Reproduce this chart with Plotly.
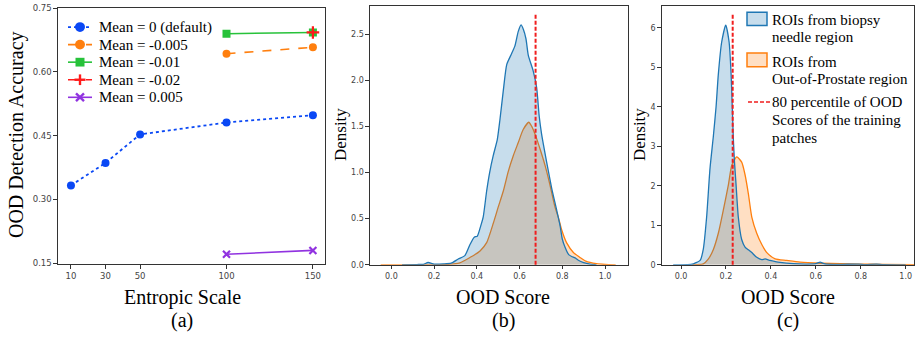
import plotly.graph_objects as go

W, H = 915, 340

# ---------------- Data: panel (a) ----------------
entropic_scales = [10, 30, 50, 100, 150]
mean_0 = [0.333, 0.386, 0.453, 0.481, 0.498]
scales_late = [100, 150]
mean_m0005 = [0.643, 0.658]
mean_m001 = [0.690, 0.693]
scales_red = [150]
mean_m002 = [0.693]
mean_p0005 = [0.171, 0.180]
a_xticks = [10, 30, 50, 100, 150]
a_yticks = [0.15, 0.30, 0.45, 0.60, 0.75]
a_labels = ["Mean = 0 (default)", "Mean = -0.005", "Mean = -0.01", "Mean = -0.02", "Mean = 0.005"]

# ---------------- Data: panel (b) density curves ----------------
b_needle_x = [0.05, 0.12, 0.15, 0.172, 0.20, 0.243, 0.28, 0.313, 0.344, 0.368, 0.388, 0.402,
              0.418, 0.43, 0.446, 0.46, 0.477, 0.496, 0.508, 0.524, 0.54, 0.563, 0.578, 0.594,
              0.607, 0.618, 0.63, 0.641, 0.664, 0.68, 0.692, 0.703, 0.712, 0.727, 0.75, 0.774,
              0.79, 0.80, 0.813, 0.83, 0.844, 0.86, 0.875, 0.90, 0.93, 0.96]
b_needle_y = [0.0, 0.003, 0.006, 0.025, 0.008, 0.01, 0.018, 0.063, 0.10, 0.22, 0.30, 0.31,
              0.42, 0.52, 0.80, 1.0, 1.185, 1.36, 1.57, 1.89, 2.17, 2.29, 2.37, 2.53,
              2.60, 2.55, 2.45, 2.27, 2.10, 1.92, 1.61, 1.42, 1.30, 1.11, 0.835, 0.59,
              0.42, 0.28, 0.19, 0.11, 0.09, 0.075, 0.05, 0.025, 0.008, 0.0]
b_prost_x = [-0.05, 0.10, 0.25, 0.29, 0.32, 0.345, 0.368, 0.39, 0.415, 0.446, 0.477, 0.50,
             0.524, 0.547, 0.571, 0.594, 0.617, 0.643, 0.657, 0.675, 0.696, 0.719, 0.742,
             0.766, 0.781, 0.797, 0.82, 0.852, 0.883, 0.91, 0.96, 1.0, 1.05]
b_prost_y = [0.0, 0.0, 0.003, 0.01, 0.02, 0.05, 0.08, 0.11, 0.15, 0.24, 0.45, 0.625,
             0.80, 1.01, 1.185, 1.325, 1.466, 1.545, 1.50, 1.40, 1.255, 1.08, 0.87,
             0.625, 0.52, 0.38, 0.24, 0.134, 0.08, 0.04, 0.012, 0.004, 0.0]
b_threshold = 0.675
b_yticks = [0.0, 0.5, 1.0, 1.5, 2.0, 2.5]

# ---------------- Data: panel (c) density curves ----------------
c_needle_x = [-0.035, 0.03, 0.055, 0.07, 0.085, 0.099, 0.114, 0.129, 0.144, 0.156, 0.166,
              0.181, 0.199, 0.214, 0.223, 0.228, 0.233, 0.238, 0.245, 0.255, 0.27, 0.285,
              0.30, 0.315, 0.337, 0.359, 0.374, 0.396, 0.42, 0.441, 0.50, 0.56, 0.60, 0.619,
              0.64, 0.70, 0.79, 0.82, 0.87, 0.90, 1.0]
c_needle_y = [0.0, 0.003, 0.025, 0.06, 0.11, 0.39, 1.21, 2.44, 3.26, 4.0, 4.82,
              5.64, 6.07, 5.64, 4.82, 4.0, 3.18, 2.6, 2.03, 1.21, 0.64, 0.45,
              0.38, 0.31, 0.19, 0.13, 0.15, 0.11, 0.08, 0.06, 0.03, 0.02, 0.03, 0.066,
              0.025, 0.01, 0.02, 0.005, 0.02, 0.003, 0.0]
c_prost_x = [0.05, 0.07, 0.099, 0.122, 0.144, 0.166, 0.188, 0.211, 0.226, 0.248, 0.27,
             0.285, 0.30, 0.315, 0.337, 0.359, 0.382, 0.419, 0.47, 0.53, 0.62, 0.80, 0.90, 1.04]
c_prost_y = [0.0, 0.003, 0.025, 0.15, 0.39, 0.80, 1.38, 2.03, 2.52, 2.73, 2.60,
             2.28, 1.79, 1.21, 0.80, 0.52, 0.31, 0.15, 0.11, 0.066, 0.04, 0.02, 0.01, 0.004]
c_threshold = 0.23
c_yticks = [0, 1, 2, 3, 4, 5, 6]
score_ticks = [0.0, 0.2, 0.4, 0.6, 0.8, 1.0]

legend_c_lines = [["ROIs from biopsy", "needle region"],
                  ["ROIs from", "Out-of-Prostate region"],
                  ["80 percentile of OOD", "Scores of the training", "patches"]]

# ---------------- helpers ----------------
def px(v):
    return v / W

def py(v):
    return 1 - v / H

SERIF = "Liberation Serif"
SANS = "DejaVu Sans"
BLUE = "#1f77b4"
ORANGE = "#ff7f0e"
RED = "rgb(240,30,30)"
A_COLORS = ["#0a48f5", "#ff7f0e", "#27c23a", "#ff1a1a", "#9133e0"]
A_DASH = ["dot", "dash", "solid", "dashdot", "solid"]

fig = go.Figure()

# panel (a)
fig.add_trace(go.Scatter(x=entropic_scales, y=mean_0, mode="lines+markers", name=a_labels[0],
                         line=dict(color=A_COLORS[0], width=1.8, dash="dot"),
                         marker=dict(symbol="circle", size=8, color=A_COLORS[0]), xaxis="x", yaxis="y"))
fig.add_trace(go.Scatter(x=scales_late, y=mean_m0005, mode="lines+markers", name=a_labels[1],
                         line=dict(color=A_COLORS[1], width=1.6, dash="dash"),
                         marker=dict(symbol="circle", size=8, color=A_COLORS[1]), xaxis="x", yaxis="y"))
fig.add_trace(go.Scatter(x=scales_late, y=mean_m001, mode="lines+markers", name=a_labels[2],
                         line=dict(color=A_COLORS[2], width=1.6),
                         marker=dict(symbol="square", size=8, color=A_COLORS[2]), xaxis="x", yaxis="y"))
fig.add_trace(go.Scatter(x=scales_red, y=mean_m002, mode="lines+markers", name=a_labels[3],
                         line=dict(color=A_COLORS[3], width=1.6, dash="dashdot"),
                         marker=dict(symbol="cross-thin", size=9, color=A_COLORS[3],
                                     line=dict(color=A_COLORS[3], width=2.2)), xaxis="x", yaxis="y"))
fig.add_trace(go.Scatter(x=scales_late, y=mean_p0005, mode="lines+markers", name=a_labels[4],
                         line=dict(color=A_COLORS[4], width=1.6),
                         marker=dict(symbol="x-thin", size=7, color=A_COLORS[4],
                                     line=dict(color=A_COLORS[4], width=2.2)), xaxis="x", yaxis="y"))

# panel (b)
fig.add_trace(go.Scatter(x=b_prost_x, y=b_prost_y, mode="lines", fill="tozeroy",
                         fillcolor="rgba(255,127,14,0.25)", line=dict(color=ORANGE, width=1.3, shape="spline", smoothing=0.6),
                         xaxis="x2", yaxis="y2"))
fig.add_trace(go.Scatter(x=b_needle_x, y=b_needle_y, mode="lines", fill="tozeroy",
                         fillcolor="rgba(31,119,180,0.25)", line=dict(color=BLUE, width=1.3, shape="spline", smoothing=0.6),
                         xaxis="x2", yaxis="y2"))

# panel (c)
fig.add_trace(go.Scatter(x=c_prost_x, y=c_prost_y, mode="lines", fill="tozeroy",
                         fillcolor="rgba(255,127,14,0.25)", line=dict(color=ORANGE, width=1.3, shape="spline", smoothing=0.6),
                         xaxis="x3", yaxis="y3"))
fig.add_trace(go.Scatter(x=c_needle_x, y=c_needle_y, mode="lines", fill="tozeroy",
                         fillcolor="rgba(31,119,180,0.25)", line=dict(color=BLUE, width=1.3, shape="spline", smoothing=0.6),
                         xaxis="x3", yaxis="y3"))

tickfont = dict(family=SANS, size=8.5, color="#444")
tickfont_s = dict(family=SANS, size=8, color="#444")
axline = dict(showline=True, linecolor="#333", linewidth=1.2, mirror=True, ticks="outside",
              ticklen=3.5, tickcolor="#333", showgrid=False, zeroline=False,
              ticklabeloverflow="allow")

fig.update_layout(
    width=W, height=H, margin=dict(l=0, r=0, t=0, b=0),
    paper_bgcolor="white", plot_bgcolor="white", showlegend=False, hovermode=False,
    xaxis=dict(domain=[px(58), px(325)], range=[2.5, 157], tickvals=a_xticks,
               tickfont=tickfont, anchor="y", **axline),
    yaxis=dict(domain=[py(267), py(3)], range=[0.1477, 0.7507], tickvals=a_yticks,
               tickformat=".2f", tickfont=tickfont, anchor="x", **axline),
    xaxis2=dict(domain=[px(370), px(628.3)], range=[-0.10, 1.109], tickvals=score_ticks,
                tickformat=".1f", tickfont=tickfont_s, anchor="y2", **axline),
    yaxis2=dict(domain=[py(267.7), py(1.5)], range=[0, 2.80], tickvals=b_yticks,
                tickformat=".1f", tickfont=tickfont_s, anchor="x2", **axline),
    xaxis3=dict(domain=[px(661.7), px(914)], range=[-0.086, 1.037], tickvals=score_ticks,
                tickformat=".1f", tickfont=tickfont_s, anchor="y3", **axline),
    yaxis3=dict(domain=[py(267.7), py(1.5)], range=[0, 6.54], tickvals=c_yticks,
                tickfont=tickfont_s, anchor="x3", **axline),
)

# threshold lines (vertical, data x)
fig.add_shape(type="line", xref="x2", yref="y2 domain", x0=b_threshold, x1=b_threshold, y0=0, y1=0.975,
              line=dict(color=RED, width=2, dash="4px,2px"))
fig.add_shape(type="line", xref="x3", yref="y3 domain", x0=c_threshold, x1=c_threshold, y0=0, y1=0.975,
              line=dict(color=RED, width=2, dash="4px,2px"))

# text annotations
def ann(text, x, y, size, angle=0, anchor="center"):
    fig.add_annotation(text=text, x=px(x), y=py(y), xref="paper", yref="paper", showarrow=False,
                       xanchor=anchor, yanchor="middle", textangle=angle,
                       font=dict(family=SERIF, size=size, color="black"))

ann("OOD Detection Accuracy", 16, 134, 20, -90)
ann("Entropic Scale", 182, 301, 20)
ann("(a)", 182, 325, 20)
ann("Density", 340, 134, 17, -90)
ann("OOD Score", 503, 301, 20)
ann("(b)", 503, 325, 20)
ann("Density", 639, 134, 17, -90)
ann("OOD Score", 788, 301, 20)
ann("(c)", 788, 325, 20)

# ---- panel (a) legend (keys drawn as shapes) ----
def pline(x0, y0, x1, y1, color, width, dash="solid"):
    fig.add_shape(type="line", xref="paper", yref="paper", x0=px(x0), x1=px(x1), y0=py(y0), y1=py(y1),
                  line=dict(color=color, width=width, dash=dash))

row_y = [22.7, 40.8, 58.9, 77.0, 95.1]
kx0, kx1, kxm = 68, 92, 80
for i, (lab, col, dsh) in enumerate(zip(a_labels, A_COLORS, A_DASH)):
    yy = row_y[i]
    pline(kx0, yy, kx1, yy, col, 1.8 if i == 0 else 1.6, dsh)
    if i in (0, 1):
        fig.add_shape(type="circle", xref="paper", yref="paper", x0=px(kxm - 5), x1=px(kxm + 5),
                      y0=py(yy + 5), y1=py(yy - 5), fillcolor=col, line=dict(color=col, width=0))
    elif i == 2:
        fig.add_shape(type="rect", xref="paper", yref="paper", x0=px(kxm - 4.5), x1=px(kxm + 4.5),
                      y0=py(yy + 4.5), y1=py(yy - 4.5), fillcolor=col, line=dict(color=col, width=0))
    elif i == 3:
        pline(kxm - 5.5, yy, kxm + 5.5, yy, col, 2.4)
        pline(kxm, yy - 5.5, kxm, yy + 5.5, col, 2.4)
    else:
        pline(kxm - 4, yy - 4, kxm + 4, yy + 4, col, 2.4)
        pline(kxm - 4, yy + 4, kxm + 4, yy - 4, col, 2.4)
    ann(lab, 97, yy, 15, anchor="left")

# ---- panel (c) legend ----
fig.add_shape(type="rect", xref="paper", yref="paper", x0=px(747), x1=px(767), y0=py(21), y1=py(7.5),
              fillcolor="rgba(31,119,180,0.25)", line=dict(color=BLUE, width=1.5))
fig.add_shape(type="rect", xref="paper", yref="paper", x0=px(747), x1=px(767), y0=py(63.5), y1=py(49.5),
              fillcolor="rgba(255,127,14,0.25)", line=dict(color=ORANGE, width=1.5))
pline(748, 100, 772, 100, RED, 1.6, "4px,2px")
line_centers = [[15, 33.3], [58.3, 76.7], [100, 118.5, 136.7]]
for lines, centers in zip(legend_c_lines, line_centers):
    for txt, yc in zip(lines, centers):
        ann(txt, 770, yc, 15, anchor="left")

fig.write_html("out.html", config={"displayModeBar": False},
               post_script="document.body.style.margin='0px';")
